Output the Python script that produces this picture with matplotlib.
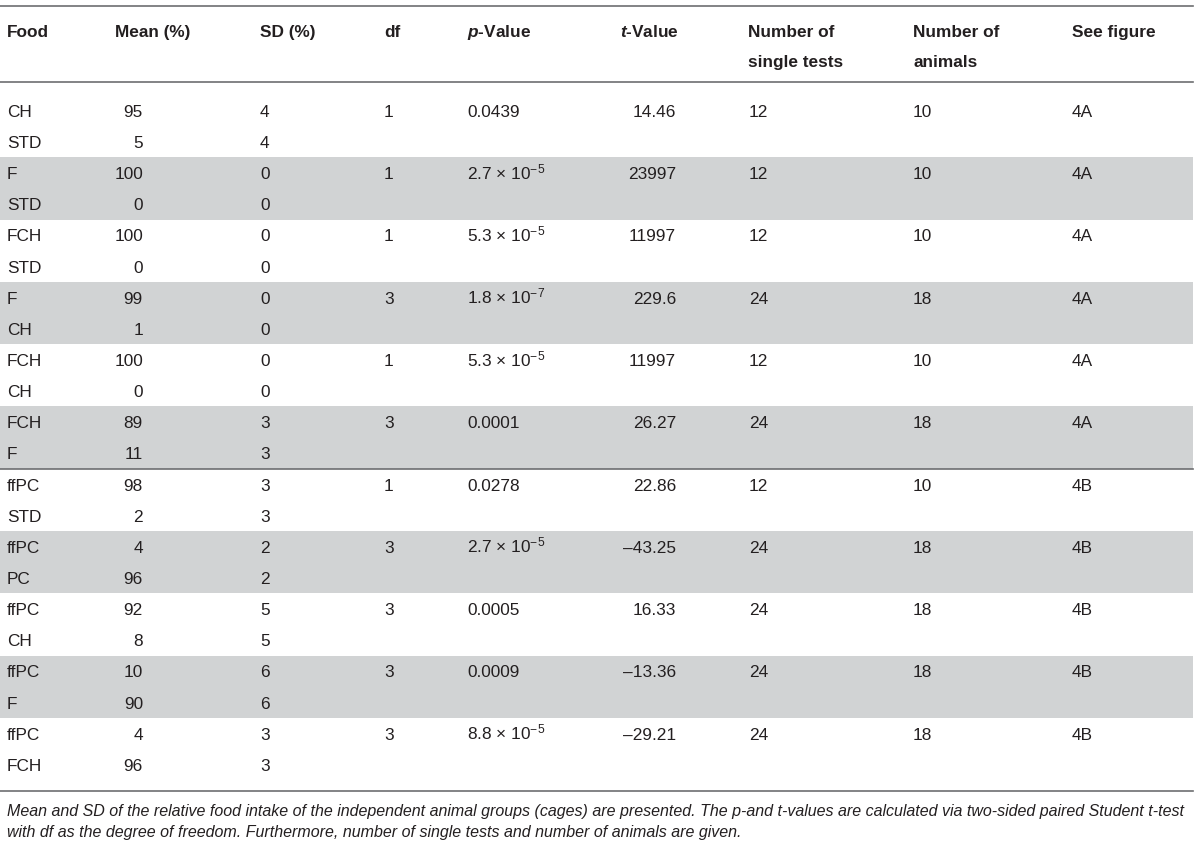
import matplotlib
matplotlib.use("Agg")
import matplotlib.pyplot as plt

# table contents, one entry per row (22 rows) or per comparison (11 pairs)
foods = ["CH", "STD", "F", "STD", "FCH", "STD", "F", "CH", "FCH", "CH", "FCH", "F",
         "ffPC", "STD", "ffPC", "PC", "ffPC", "CH", "ffPC", "F", "ffPC", "FCH"]
means = [95, 5, 100, 0, 100, 0, 99, 1, 100, 0, 89, 11,
         98, 2, 4, 96, 92, 8, 10, 90, 4, 96]
sds = [4, 4, 0, 0, 0, 0, 0, 0, 0, 0, 3, 3,
       3, 3, 2, 2, 5, 5, 6, 6, 3, 3]

dfs = [1, 1, 1, 3, 1, 3, 1, 3, 3, 3, 3]
p_vals = ["0.0439", "2.7 \u00d7 10$^{-5}$", "5.3 \u00d7 10$^{-5}$", "1.8 \u00d7 10$^{-7}$",
          "5.3 \u00d7 10$^{-5}$", "0.0001", "0.0278", "2.7 \u00d7 10$^{-5}$", "0.0005",
          "0.0009", "8.8 \u00d7 10$^{-5}$"]
t_vals = ["14.46", "23997", "11997", "229.6", "11997", "26.27", "22.86", "\u201343.25",
          "16.33", "\u201313.36", "\u201329.21"]
n_tests = [12, 12, 12, 24, 12, 24, 12, 24, 24, 24, 24]
n_animals = [10, 10, 10, 18, 10, 18, 10, 18, 18, 18, 18]
see_fig = ["4A", "4A", "4A", "4A", "4A", "4A", "4B", "4B", "4B", "4B", "4B"]

caption1 = ("Mean and SD of the relative food intake of the independent animal groups (cages) are presented. "
            "The p-and t-values are calculated via two-sided paired Student t-test")
caption2 = "with df as the degree of freedom. Furthermore, number of single tests and number of animals are given."

plt.rcParams['font.family'] = ['Liberation Sans', 'DejaVu Sans']
plt.rcParams['mathtext.fontset'] = 'custom'
plt.rcParams['mathtext.rm'] = 'Liberation Sans'
plt.rcParams['mathtext.it'] = 'Liberation Sans:italic:bold'
plt.rcParams['mathtext.bf'] = 'Liberation Sans:bold'

txt = "#231f20"
rule = "#6d6e71"
band = "#d1d3d4"
fs = 12.4

fig = plt.figure(figsize=(12, 8.49), dpi=100)
ax = fig.add_axes([0, 0, 1, 1])
ax.set_xlim(0, 1200)
ax.set_ylim(849, 0)
ax.axis('off')

row0 = 110.5
pitch = 31.15
right = 1193
base = 6.3  # baseline offset below row centre

# shaded bands for every other comparison
for k in range(len(dfs)):
    if k % 2 == 1:
        top = row0 - pitch / 2 + 2 * k * pitch
        ax.axhspan(top, top + 2 * pitch, xmin=0, xmax=right / 1200, color=band, lw=0, zorder=0)

# rules
for y in [6, 82, 791]:
    ax.plot([0, right], [y, y], color=rule, lw=1.2)
sep = row0 - pitch / 2 + 12 * pitch
ax.plot([0, right], [sep, sep], color=rule, lw=1.2)

# headers
hy1, hy2 = 31 + base, 61 + base
hdr = dict(fontsize=fs, fontweight='bold', color=txt, va='baseline')
ax.text(7, hy1, "Food", **hdr)
ax.text(115, hy1, "Mean (%)", **hdr)
ax.text(260, hy1, "SD (%)", **hdr)
ax.text(384, hy1, "df", **hdr)
ax.text(467, hy1, "$p$-Value", **hdr)
ax.text(620, hy1, "$t$-Value", **hdr)
ax.text(748, hy1, "Number of", **hdr)
ax.text(748, hy2, "single tests", **hdr)
ax.text(913, hy1, "Number of", **hdr)
ax.text(913, hy2, "animals", **hdr)
ax.text(1072, hy1, "See figure", **hdr)

cell = dict(fontsize=fs, color=txt, va='baseline')
for i in range(len(foods)):
    y = row0 + i * pitch + base
    ax.text(7, y, foods[i], **cell)
    ax.text(143, y, str(means[i]), ha='right', **cell)
    ax.text(260, y, str(sds[i]), **cell)

for k in range(len(dfs)):
    y = row0 + 2 * k * pitch + base
    ax.text(384, y, str(dfs[k]), **cell)
    ax.text(467, y, p_vals[k], **cell)
    ax.text(676, y, t_vals[k], ha='right', **cell)
    ax.text(749, y, str(n_tests[k]), **cell)
    ax.text(913, y, str(n_animals[k]), **cell)
    ax.text(1072, y, see_fig[k], **cell)

cap = dict(fontsize=11.5, style='italic', color=txt, va='baseline')
ax.text(7, 816, caption1, **cap)
ax.text(7, 837, caption2, **cap)

fig.savefig("out.png", dpi=100)
